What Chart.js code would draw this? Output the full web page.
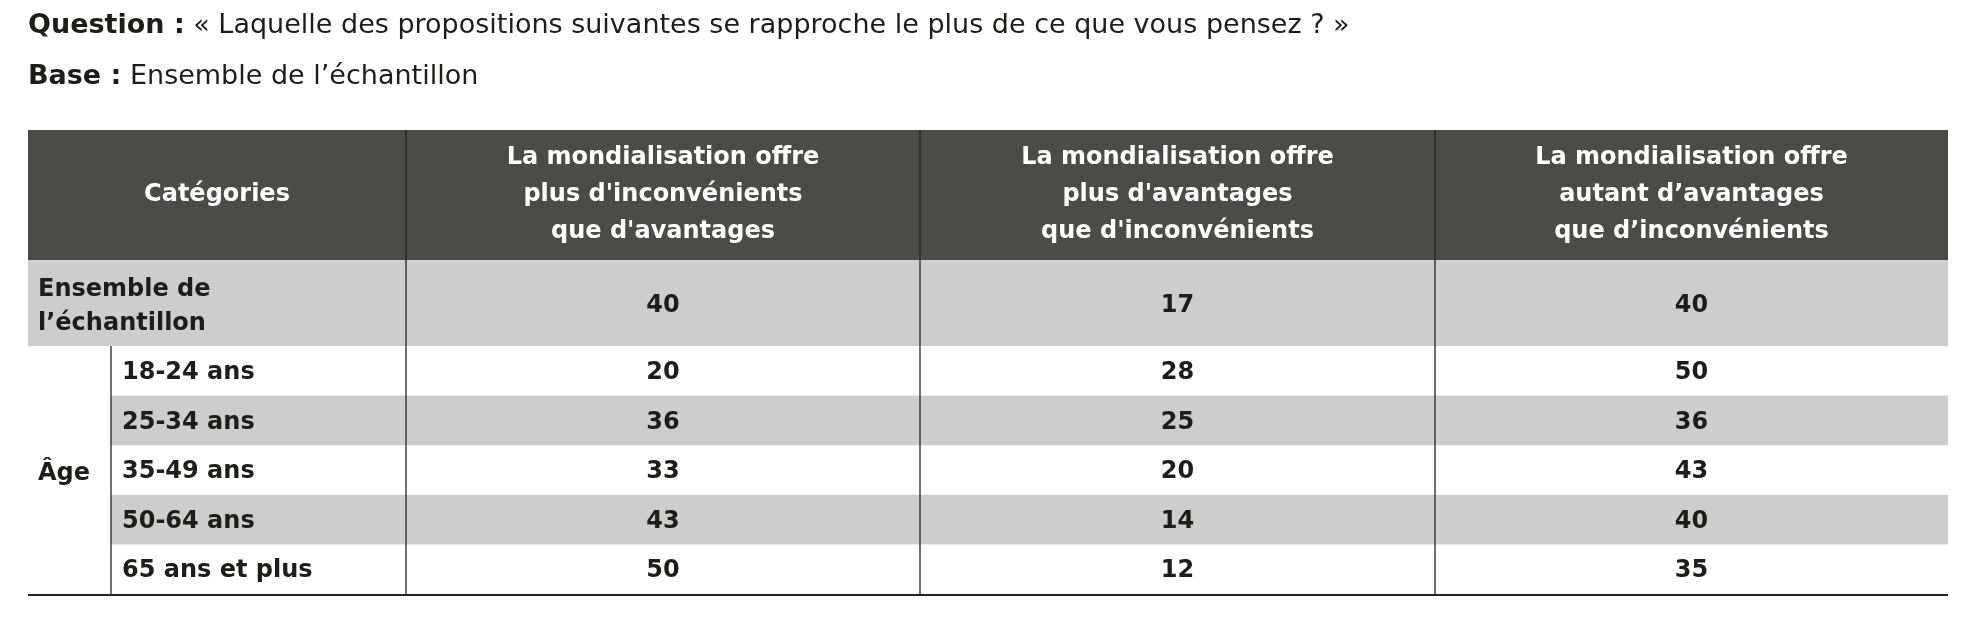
<!DOCTYPE html>
<html>
<head>
<meta charset="utf-8">
<script src="https://cdn.jsdelivr.net/npm/chart.js@4"></script>
<style>
  html, body { margin: 0; padding: 0; background: #fff; }
  #wrap { width: 1982px; height: 626px; }
</style>
</head>
<body>
<div id="wrap"><canvas id="table"></canvas></div>
<script>
// DATA
const questionLabel = "Question :";
const questionText = " « Laquelle des propositions suivantes se rapproche le plus de ce que vous pensez ? »";
const baseLabel = "Base :";
const baseText = " Ensemble de l’échantillon";
const headerCategories = "Catégories";
const seriesNames = [
  ["La mondialisation offre", "plus d'inconvénients", "que d'avantages"],
  ["La mondialisation offre", "plus d'avantages", "que d'inconvénients"],
  ["La mondialisation offre", "autant d’avantages", "que d’inconvénients"],
];
const totalLabel = ["Ensemble de", "l’échantillon"];
const groupLabel = "Âge";
const ageCategories = ["18-24 ans", "25-34 ans", "35-49 ans", "50-64 ans", "65 ans et plus"];
const totalValues = [40, 17, 40];
const inconvenients = [20, 36, 33, 43, 50];
const avantages = [28, 25, 20, 14, 12];
const autant = [50, 36, 43, 40, 35];

// LAYOUT (axis units = page pixels)
const colEdges = [28, 406, 920, 1435, 1948];
const subCol = 111;
const headTop = 130, headBottom = 260, totalBottom = 346, rowH = 49.6;
const FONT = '"DejaVu Sans", "Open Sans", sans-serif';
const DARK = "#4b4c49", GREY = "#cdcdcd", INK = "#1d1d1b";

const ageSeries = [inconvenients, avantages, autant];

const tablePlugin = {
  id: "tableDraw",
  afterDraw(chart) {
    const ctx = chart.ctx, xs = chart.scales.x, ys = chart.scales.y;
    const X = v => xs.getPixelForValue(v), Y = v => ys.getPixelForValue(v);
    const rect = (x0, y0, x1, y1, c) => { ctx.fillStyle = c; ctx.fillRect(X(x0), Y(y0), X(x1) - X(x0), Y(y1) - Y(y0)); };
    const text = (t, x, y, size, weight, align) => {
      ctx.font = `${weight} ${size}px ${FONT}`; ctx.fillStyle = INK;
      ctx.textAlign = align || "center"; ctx.textBaseline = "middle";
      ctx.fillText(t, X(x), Y(y));
    };
    const vline = (x, y0, y1, c, w) => { ctx.strokeStyle = c; ctx.lineWidth = w; ctx.beginPath(); ctx.moveTo(X(x), Y(y0)); ctx.lineTo(X(x), Y(y1)); ctx.stroke(); };
    ctx.save();

    // titles
    ctx.textBaseline = "middle"; ctx.textAlign = "left"; ctx.fillStyle = INK;
    ctx.font = `700 27px ${FONT}`; ctx.fillText(questionLabel, X(28), Y(26));
    let w = ctx.measureText(questionLabel).width;
    ctx.font = `400 27px ${FONT}`; ctx.fillText(questionText, X(28) + w, Y(26));
    ctx.font = `700 27px ${FONT}`; ctx.fillText(baseLabel, X(28), Y(77));
    w = ctx.measureText(baseLabel).width;
    ctx.font = `400 27px ${FONT}`; ctx.fillText(baseText, X(28) + w, Y(77));

    // header
    rect(colEdges[0], headTop, colEdges[4], headBottom, DARK);
    ctx.font = `700 24px ${FONT}`; ctx.fillStyle = "#fff"; ctx.textAlign = "center";
    ctx.fillText(headerCategories, X((colEdges[0] + colEdges[1]) / 2), Y((headTop + headBottom) / 2));
    seriesNames.forEach((lines, i) => {
      const cx = (colEdges[i + 1] + colEdges[i + 2]) / 2;
      lines.forEach((l, j) => ctx.fillText(l, X(cx), Y(headTop + 28 + j * 37)));
    });

    // total row
    rect(colEdges[0], headBottom, colEdges[4], totalBottom, GREY);
    text(totalLabel[0], 38, headBottom + 30, 24, 700, "left");
    text(totalLabel[1], 38, headBottom + 64, 24, 700, "left");
    totalValues.forEach((v, i) => text(String(v), (colEdges[i + 1] + colEdges[i + 2]) / 2, (headBottom + totalBottom) / 2 + 3, 24, 700));

    // age rows
    ageCategories.forEach((cat, r) => {
      const y0 = totalBottom + r * rowH, y1 = y0 + rowH;
      if (r % 2 === 1) rect(subCol, y0, colEdges[4], y1, GREY);
      text(cat, subCol + 11, (y0 + y1) / 2 + 2, 24, 700, "left");
      ageSeries.forEach((s, i) => text(String(s[r]), (colEdges[i + 1] + colEdges[i + 2]) / 2, (y0 + y1) / 2 + 2, 24, 700));
    });
    const end = totalBottom + ageCategories.length * rowH;
    text(groupLabel, 38, (totalBottom + end) / 2 + 4, 24, 700, "left");

    // lines
    for (let i = 1; i <= 3; i++) vline(colEdges[i], headTop, end, "#222", 1.3);
    vline(subCol, totalBottom, end, "#222", 1.3);
    ctx.strokeStyle = "#222"; ctx.lineWidth = 2;
    ctx.beginPath(); ctx.moveTo(X(colEdges[0]), Y(end) + 1); ctx.lineTo(X(colEdges[4]), Y(end) + 1); ctx.stroke();
    ctx.restore();
  }
};

new Chart(document.getElementById("table").getContext("2d"), {
  type: "scatter",
  data: { datasets: [{ data: [], pointRadius: 0 }] },
  options: {
    responsive: true, maintainAspectRatio: false, animation: false,
    layout: { padding: 0 },
    plugins: { legend: { display: false }, tooltip: { enabled: false } },
    scales: {
      x: { type: "linear", min: 0, max: 1982, display: false },
      y: { type: "linear", min: 0, max: 626, reverse: true, display: false },
    },
  },
  plugins: [tablePlugin],
});
</script>
</body>
</html>
